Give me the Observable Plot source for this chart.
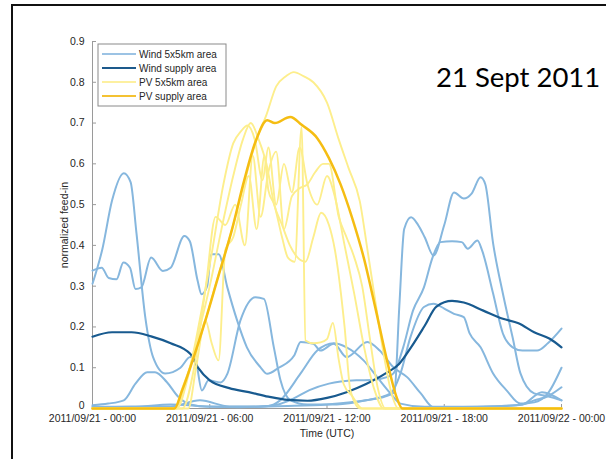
<!DOCTYPE html>
<html><head><meta charset="utf-8">
<script src="https://cdn.jsdelivr.net/npm/d3@7"></script>
<script src="https://cdn.jsdelivr.net/npm/@observablehq/plot@0.6"></script>
<style>
html,body{margin:0;padding:0;background:#fff;}
#wrap{position:relative;width:606px;height:459px;overflow:hidden;background:#fff;}
#frame{position:absolute;left:11px;top:4px;width:800px;height:800px;border:2px solid #111;box-sizing:border-box;}
#chart{position:absolute;left:0;top:0;}
</style>
</head><body>
<div id="wrap"><div id="frame"></div><div id="chart"></div></div>
<script>
// ---- data (hours after 2011/09/21 00:00 UTC, normalized feed-in) ----
const xTicks = [0, 6, 12, 18, 24];
const xTickLabels = ["2011/09/21 - 00:00","2011/09/21 - 06:00","2011/09/21 - 12:00","2011/09/21 - 18:00","2011/09/22 - 00:00"];
const yTicks = [0, 0.1, 0.2, 0.3, 0.4, 0.5, 0.6, 0.7, 0.8, 0.9];
const legendNames = ["Wind 5x5km area","Wind supply area","PV 5x5km area","PV supply area"];
const titleText = "21 Sept 2011";

const windA_h = [0,0.5,1.0,1.6,1.95,2.25,2.7,3.1,3.72,4.5,5.0,5.27,5.6,5.94,6.55,6.9,7.57,8.34,8.77,9.28,9.62,10.13,11,12.5,14,15.25,15.76,16.27,16.96,17.45,18.0,18.5,19.0,19.3,19.86,20.5,21.2,21.9,22.6,23.3,24];
const windA_v = [0.306,0.39,0.51,0.577,0.555,0.43,0.224,0.126,0.086,0.1,0.126,0.118,0.044,0.069,0.064,0.085,0.216,0.273,0.269,0.15,0.069,0.02,0.01,0.01,0.02,0.037,0.086,0.175,0.249,0.257,0.245,0.232,0.224,0.184,0.15,0.086,0.044,0.012,0.015,0.037,0.10];

const windB_h = [0,0.47,0.83,1.23,1.58,1.92,2.2,2.5,3.0,3.6,4.0,4.7,4.98,5.38,5.58,5.87,6.07,6.46,6.9,7.4,7.9,8.6,8.94,9.53,10.32,10.65,11.3,11.67,12.35,13.0,14.06,14.7,15.4,16.1,16.8,17.45,19,20.5,22,23,24];
const windB_v = [0.338,0.345,0.32,0.317,0.358,0.345,0.293,0.297,0.37,0.337,0.345,0.423,0.41,0.313,0.28,0.3,0.378,0.378,0.297,0.216,0.15,0.101,0.085,0.1,0.13,0.163,0.159,0.142,0.159,0.126,0.163,0.142,0.101,0.077,0.037,0.003,0.003,0.005,0.01,0.04,0.02];

const windC_h = [0,0.8,1.6,2.2,2.8,3.2,3.8,4.4,5.0,6,7.5,9,9.6,10.65,11.5,12.35,13.0,13.87,14.57,15.25,15.76,17,19,21,22,22.6,23.3,24];
const windC_v = [0.008,0.012,0.02,0.061,0.089,0.089,0.065,0.028,0.01,0.004,0.003,0.006,0.02,0.086,0.142,0.16,0.15,0.118,0.077,0.037,0.012,0.004,0.004,0.006,0.01,0.02,0.03,0.052];

const windD_h = [0,2,4,6,8,10,12,14,15.0,15.45,15.7,15.95,16.3,16.65,17.0,17.45,18.0,18.5,19.0,19.4,19.86,20.1,20.5,21.0,21.5,21.9,22.6,23.3,24];
const windD_v = [0.005,0.003,0.01,0.005,0.004,0.006,0.01,0.02,0.03,0.04,0.25,0.44,0.469,0.451,0.42,0.375,0.45,0.53,0.515,0.527,0.567,0.55,0.405,0.282,0.174,0.086,0.037,0.03,0.02];

const windE_h = [0,2,4,5.5,7,8.5,9.5,10.3,11.1,12.1,13.5,14.3,15.07,15.4,15.9,16.4,16.96,17.4,17.8,18.4,18.9,19.2,19.7,19.94,20.5,21.0,21.5,22.0,22.75,23.3,24];
const windE_v = [0.003,0.005,0.005,0.02,0.005,0.005,0.01,0.025,0.045,0.061,0.069,0.07,0.077,0.086,0.15,0.24,0.297,0.37,0.408,0.41,0.408,0.392,0.412,0.387,0.282,0.184,0.15,0.142,0.142,0.16,0.196];

const windSupply_h = [0,1,2,3,4,5,5.4,6,7,8,9,10,11,12,13,14,15,15.7,16.3,17,17.6,18.4,19,20,21,21.8,22.6,23.4,24];
const windSupply_v = [0.176,0.187,0.187,0.177,0.160,0.134,0.10,0.069,0.05,0.04,0.029,0.021,0.019,0.026,0.04,0.06,0.086,0.11,0.15,0.203,0.25,0.264,0.26,0.24,0.22,0.209,0.187,0.171,0.15];

const pv1_h = [0,4.2,4.6,5.2,5.8,6.4,7.2,7.8,8.4,8.9,9.4,9.9,10.3,10.8,11.3,12.0,12.6,13.1,13.68,14.08,14.47,14.87,15.26,15.66,24];
const pv1_v = [0,0,0.05,0.13,0.22,0.32,0.45,0.56,0.66,0.72,0.79,0.815,0.825,0.815,0.80,0.75,0.66,0.59,0.508,0.386,0.264,0.142,0.045,0,0];

const pv2_h = [0,4.3,4.9,5.5,6.1,6.7,7.2,7.6,7.93,8.3,8.7,9.0,9.4,9.8,10.2,10.6,11.0,11.5,12.0,12.4,12.9,13.4,13.9,14.4,14.9,24];
const pv2_v = [0,0,0.08,0.22,0.38,0.55,0.65,0.68,0.694,0.66,0.56,0.64,0.5,0.6,0.53,0.64,0.55,0.5,0.57,0.52,0.4,0.28,0.15,0.05,0,0];

const pv3_h = [0,4.9,5.3,5.78,6.1,6.45,6.8,7.2,7.6,8.0,8.4,8.8,9.0,9.3,9.7,10.0,10.35,10.7,10.9,11.3,11.67,12.0,12.3,12.6,12.85,13.3,13.8,24];
const pv3_v = [0,0,0.1,0.216,0.16,0.118,0.39,0.42,0.5,0.57,0.44,0.62,0.535,0.5,0.42,0.37,0.36,0.69,0.167,0.16,0.162,0.17,0.21,0.12,0.06,0.03,0,0];

const pv4_h = [0,4.6,5.2,5.8,6.3,6.8,7.3,7.8,8.2,8.6,9.0,9.4,9.8,10.2,10.6,11.0,11.4,11.8,12.1,12.6,13.0,13.4,13.8,14.2,14.6,15.0,24];
const pv4_v = [0,0,0.1,0.3,0.47,0.45,0.5,0.4,0.62,0.47,0.58,0.63,0.44,0.52,0.54,0.55,0.58,0.6,0.6,0.47,0.42,0.37,0.3,0.17,0.05,0,0];

const pv5_h = [0,4.3,4.8,5.4,6.0,6.6,7.2,7.7,8.1,8.5,8.9,9.3,9.7,10.1,10.5,10.9,11.3,11.7,12.1,12.4,12.9,13.2,13.7,24];
const pv5_v = [0,0,0.07,0.18,0.3,0.44,0.57,0.66,0.7,0.66,0.6,0.5,0.45,0.4,0.37,0.36,0.42,0.48,0.45,0.39,0.2,0.044,0,0];

const pvSupply_h = [0,4.19,4.59,5.18,5.77,6.37,7.16,7.75,8.34,8.94,9.33,10.12,10.72,11.5,12.1,12.7,13.29,13.88,14.47,15.07,15.56,15.86,24];
const pvSupply_v = [0,0,0.045,0.126,0.215,0.313,0.443,0.557,0.654,0.707,0.70,0.715,0.695,0.663,0.614,0.549,0.467,0.37,0.248,0.118,0.028,0,0];

// ---- styles ----
const colors = {windLight:"#86b7de", windDark:"#185a8f", pvLight:"#fdee8c", pvDark:"#f5bd12"};
const legendColors = ["#9cc3e4","#1d5a8c","#fdf0a0","#f4c233"];

function rows(id, hs, vs){ return hs.map((h,i)=>({id, h, v: vs[i]})); }
const windLightRows = [
  ...rows("A", windA_h, windA_v), ...rows("B", windB_h, windB_v), ...rows("C", windC_h, windC_v),
  ...rows("D", windD_h, windD_v), ...rows("E", windE_h, windE_v)];
const windDarkRows = rows("S", windSupply_h, windSupply_v);
const pvLightRows = [
  ...rows("1", pv1_h, pv1_v), ...rows("2", pv2_h, pv2_v), ...rows("3", pv3_h, pv3_v),
  ...rows("4", pv4_h, pv4_v), ...rows("5", pv5_h, pv5_v)];
const pvDarkRows = rows("S", pvSupply_h, pvSupply_v);

const axisGray = "#9a9a9a";
const W = 606, H = 459, mL = 92, mR = 45, mT = 41, mB = 51;
const yFmt = d => d === 0 ? "0" : d3.format(".1f")(d);

const chart = Plot.plot({
  width: W, height: H,
  marginLeft: mL, marginRight: mR, marginTop: mT, marginBottom: mB,
  style: {fontFamily: "'Liberation Sans', Arial, sans-serif", fontSize: "10.5px", color: "#262626", background: "transparent"},
  x: {domain: [0, 24]},
  y: {domain: [0, 0.9]},
  marks: [
    Plot.ruleX([0], {stroke: axisGray, strokeWidth: 1}),
    Plot.ruleY([0], {stroke: axisGray, strokeWidth: 1}),
    Plot.tickY(yTicks, {y: d => d, stroke: axisGray, insetRight: (W - mL - mR) - 4}),
    Plot.tickX(xTicks, {x: d => d, stroke: axisGray, insetTop: (H - mT - mB) - 4}),
    Plot.axisY({ticks: yTicks.filter(d => d > 0), tickSize: 0, tickPadding: 8, label: null, tickFormat: yFmt}),
    Plot.axisY({ticks: yTicks.filter(d => d === 0), tickSize: 0, tickPadding: 8, label: null, tickFormat: yFmt, dy: -3}),
    Plot.axisX({ticks: xTicks, tickSize: 0, tickPadding: 6, label: null, tickFormat: d => xTickLabels[xTicks.indexOf(d)]}),
    Plot.text(["normalized feed-in"], {frameAnchor: "left", rotate: -90, dx: -28, textAnchor: "middle", lineAnchor: "middle", fontSize: 10.5, fill: "#262626"}),
    Plot.text(["Time (UTC)"], {frameAnchor: "bottom", dy: 25, textAnchor: "middle", lineAnchor: "middle", fontSize: 10.5, fill: "#262626"}),
    Plot.line(windLightRows, {x: "h", y: "v", z: "id", stroke: colors.windLight, strokeWidth: 2, curve: "monotone-x"}),
    Plot.line(windDarkRows, {x: "h", y: "v", z: "id", stroke: colors.windDark, strokeWidth: 2.2, curve: "monotone-x"}),
    Plot.line(pvLightRows, {x: "h", y: "v", z: "id", stroke: colors.pvLight, strokeWidth: 1.9, curve: "monotone-x"}),
    Plot.line(pvDarkRows, {x: "h", y: "v", z: "id", stroke: colors.pvDark, strokeWidth: 2.5, curve: "monotone-x"})
  ]
});

// legend and title (annotation layer)
const svg = d3.select(chart);
const lg = svg.append("g").attr("font-family", "'Liberation Sans', Arial, sans-serif").attr("font-size", 10).attr("fill", "#262626").attr("text-anchor", "start");
lg.append("rect").attr("x", 98).attr("y", 44).attr("width", 128).attr("height", 62)
  .attr("fill", "#fff").attr("stroke", "#8a8a8a").attr("stroke-width", 1);
legendNames.forEach((name, i) => {
  const yy = 54 + i * 14;
  lg.append("line").attr("x1", 102).attr("x2", 136).attr("y1", yy).attr("y2", yy)
    .attr("stroke", legendColors[i]).attr("stroke-width", i === 1 || i === 3 ? 2.2 : 2);
  lg.append("text").attr("x", 139).attr("y", yy).attr("dy", "0.35em").attr("text-anchor", "start").text(name);
});
svg.append("text").attr("x", 436).attr("y", 87).attr("text-anchor", "start")
  .attr("font-family", "Lato, 'Open Sans', sans-serif").attr("font-size", 27.5).attr("fill", "#000")
  .text(titleText);

document.getElementById("chart").appendChild(chart);
</script>
</body></html>
